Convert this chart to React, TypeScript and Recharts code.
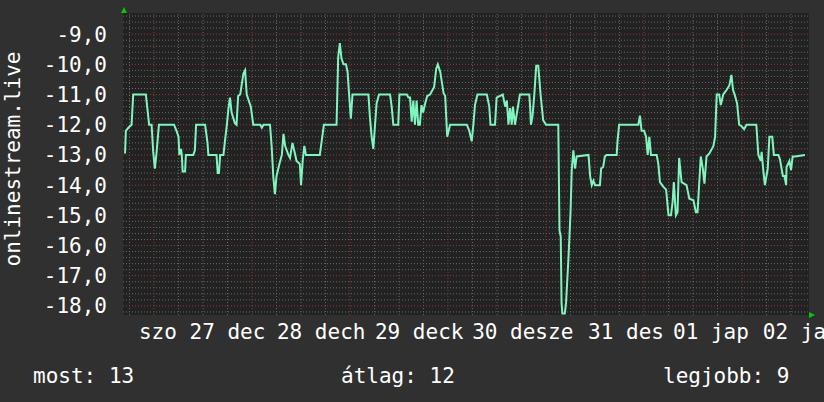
import React from 'react';
import { LineChart, Line, XAxis, YAxis, ReferenceLine, CartesianGrid } from 'recharts';

// hours since start of graph window, and the value at that moment
const HOURS = [
  0.5, 0.7, 1.3, 2.1, 2.5, 5.6, 6.0, 6.4, 7.0, 7.4, 7.8, 8.2, 8.8, 12.5, 13.1, 13.6, 13.8, 14.2, 14.4, 14.6,
  15.2, 15.4, 17.2, 17.6, 17.9, 20.1, 20.7, 20.9, 22.9, 23.2, 23.5, 23.8, 24.6, 25.0, 25.4, 25.8, 26.2, 26.6,
  27.4, 27.8, 28.2, 28.7, 29.5, 29.9, 30.3, 31.3, 31.9, 33.6, 34.0, 34.4, 36.0, 36.4, 36.8, 37.2, 37.6, 38.3,
  38.9, 39.3, 39.7, 40.5, 40.9, 41.5, 42.1, 42.5, 43.3, 43.6, 44.0, 44.4, 44.8, 48.2, 48.8, 49.2, 52.3, 52.7,
  53.1, 53.5, 54.0, 54.6, 55.0, 55.4, 55.8, 56.2, 60.1, 60.5, 60.9, 61.3, 61.7, 62.1, 62.7, 65.4, 65.8, 66.2,
  67.4, 67.7, 69.5, 69.9, 70.3, 70.7, 71.1, 71.5, 71.9, 72.3, 72.7, 73.1, 73.5, 73.9, 74.5, 75.2, 76.2, 76.7,
  77.1, 77.7, 78.5, 78.9, 79.4, 80.1, 84.2, 84.8, 85.4, 85.8, 86.2, 86.8, 89.1, 89.7, 90.0, 91.1, 91.5, 93.0,
  93.6, 94.0, 94.4, 94.8, 95.2, 95.5, 96.0, 97.2, 99.5, 99.7, 99.9, 100.3, 100.7, 101.2, 101.7, 102.3, 102.9,
  103.6, 106.6, 106.9, 107.2, 107.4, 107.6, 108.2, 108.5, 109.1, 109.6, 109.9, 110.3, 110.7, 111.1, 114.0,
  114.4, 114.8, 115.2, 115.6, 116.8, 117.1, 117.6, 118.0, 118.4, 120.9, 121.1, 121.5, 126.2, 126.6, 127.0,
  127.6, 128.1, 128.5, 128.9, 129.3, 130.7, 131.1, 131.5, 132.3, 133.0, 133.6, 134.2, 134.6, 134.9, 135.4,
  135.8, 136.2, 136.8, 138.0, 138.7, 139.7, 140.3, 140.7, 141.5, 142.0, 142.4, 142.9, 143.6, 144.6, 145.0,
  145.4, 146.0, 146.4, 147.0, 147.8, 148.5, 149.0, 149.4, 149.8, 150.4, 150.9, 151.5, 152.1, 152.7, 155.1,
  155.6, 156.2, 156.4, 156.8, 157.2, 157.9, 158.3, 159.0, 159.4, 160.5, 160.9, 161.6, 162.0, 162.4, 162.5,
  163.2, 163.6, 164.0, 164.6, 167.0,
];

const VALUES = [
  -12.95, -12.2, -12.1, -12.0, -11.0, -11.0, -11.5, -12.0, -12.0, -12.9, -13.45, -12.95, -12.0, -12.0, -12.2,
  -12.4, -13.0, -12.8, -13.0, -13.55, -13.55, -13.0, -13.0, -12.85, -12.0, -12.0, -12.6, -13.0, -13.0, -13.6,
  -13.6, -13.0, -13.0, -12.5, -12.05, -11.5, -11.1, -11.6, -11.95, -12.0, -11.05, -11.0, -10.3, -10.2, -11.0,
  -11.4, -12.0, -12.0, -12.1, -12.0, -12.0, -12.7, -13.7, -14.3, -13.7, -13.3, -13.0, -12.3, -12.7, -13.0,
  -13.1, -12.6, -12.95, -13.2, -13.3, -14.0, -13.2, -12.7, -13.0, -13.0, -12.4, -12.0, -12.0, -9.75, -9.3,
  -9.8, -10.0, -10.0, -10.25, -11.05, -11.8, -11.0, -11.0, -11.8, -12.4, -12.8, -12.05, -11.3, -11.0, -11.0,
  -11.4, -12.0, -12.0, -11.0, -11.0, -11.1, -11.1, -11.9, -11.2, -12.0, -11.2, -12.0, -12.0, -11.35, -11.6,
  -11.35, -11.05, -11.0, -10.75, -10.15, -10.0, -10.25, -10.95, -11.05, -12.4, -12.0, -12.0, -12.2, -12.55,
  -12.0, -11.35, -11.0, -11.0, -11.4, -12.0, -12.0, -11.1, -11.0, -11.4, -11.2, -12.0, -11.45, -12.0, -11.4,
  -12.0, -11.0, -11.0, -11.4, -12.0, -11.7, -11.05, -10.05, -10.05, -11.05, -11.85, -12.0, -12.0, -15.5,
  -15.7, -17.9, -18.25, -18.25, -17.9, -16.4, -14.9, -13.5, -12.85, -13.45, -13.05, -13.0, -13.7, -14.0,
  -13.85, -14.0, -14.0, -13.45, -13.4, -13.05, -13.0, -13.0, -12.55, -12.0, -12.0, -11.7, -12.2, -12.2,
  -12.4, -13.0, -12.4, -13.0, -13.0, -13.3, -13.9, -14.05, -14.15, -15.0, -15.0, -14.55, -13.9, -15.0,
  -14.9, -13.1, -13.9, -14.0, -14.45, -14.5, -14.9, -14.9, -13.05, -13.45, -13.95, -13.05, -12.95, -12.7,
  -12.4, -11.0, -11.0, -11.35, -11.0, -10.85, -10.7, -10.35, -10.85, -11.0, -11.3, -12.0, -12.05, -12.15,
  -12.0, -12.0, -13.0, -13.2, -12.9, -13.5, -14.0, -13.45, -12.4, -12.4, -13.0, -13.0, -13.15, -13.7, -13.7,
  -14.0, -13.4, -13.2, -13.5, -13.05, -13.05, -13.0,
];

const Y_TICKS = [-18, -17, -16, -15, -14, -13, -12, -11, -10, -9];

// day labels as they appear (overlapping rrd-style text), and the hour where each starts
const X_LABELS = ['szo 27 dec', '28 dech', '29 deck', '30 desze', '31 des', '01 jap', '02 ja'];
const X_LABEL_HOURS = [3.9, 37.7, 61.7, 85.5, 113.9, 134.7, 156.7];

const SUMMARY_NAMES = ['most', 'átlag', 'legjobb'];
const SUMMARY_VALUES = [13, 12, 9];

const data = HOURS.map((t, i) => ({ t, v: VALUES[i] }));

const FONT = '"DejaVu Sans Mono", monospace';
const W = 824;
const H = 402;
const GRID = '#686868';
const MGRID = '#8c3a3a';

// grid: minor every 0.2, major every 1; vertical every 6h, major at midnight
const minorY: number[] = [];
for (let i = -91; i <= -42; i++) if (i % 5 !== 0) minorY.push(i / 5);
const gridX: number[] = [];
for (let t = 1.6; t < 168; t += 6) gridX.push(Math.round(t * 10) / 10);

const XTick = (props: any) => {
  const { x, y, payload } = props;
  const idx = X_LABEL_HOURS.indexOf(payload.value);
  return (
    <text x={x} y={y + 24} textAnchor="start" fill="#ffffff" fontFamily={FONT} fontSize={21}>
      {X_LABELS[idx]}
    </text>
  );
};

export default function App() {
  return (
    <div style={{ position: 'absolute', left: 0, top: 0, width: W, height: H, background: '#303030', overflow: 'hidden' }}>
      <LineChart width={W} height={H} data={data} margin={{ top: 13, right: 15, bottom: 0, left: 0 }}>
        <CartesianGrid fill="#222222" stroke="none" horizontal={false} vertical={false} />
        {minorY.map((y) => (
          <ReferenceLine key={'my' + y} y={y} stroke={GRID} strokeDasharray="1 2" />
        ))}
        {gridX.map((t, k) => (
          <ReferenceLine key={'gx' + t} x={t} stroke={k % 4 === 1 ? MGRID : GRID} strokeDasharray="1 2" />
        ))}
        {Y_TICKS.map((y) => (
          <ReferenceLine key={'My' + y} y={y} stroke={MGRID} strokeDasharray="1 2" />
        ))}
        <XAxis
          dataKey="t"
          type="number"
          domain={[0, 168]}
          ticks={X_LABEL_HOURS}
          tick={<XTick />}
          height={87}
          axisLine={false}
          tickLine={false}
          tickSize={0}
          tickMargin={0}
          allowDataOverflow
        />
        <YAxis
          type="number"
          domain={[-18.3, -8.3]}
          ticks={Y_TICKS}
          width={123}
          axisLine={false}
          tickLine={false}
          tickSize={8}
          tickMargin={8}
          tickFormatter={(v: number) => v.toFixed(1).replace('.', ',')}
          tick={{ fill: '#ffffff', fontFamily: FONT, fontSize: 21 }}
          allowDataOverflow
        />
        <Line
          type="linear"
          dataKey="v"
          stroke="#80f5c0"
          strokeWidth={2}
          dot={false}
          isAnimationActive={false}
        />
      </LineChart>
      <svg width={W} height={H} style={{ position: 'absolute', left: 0, top: 0, pointerEvents: 'none' }}>
        <polygon points="121,13 127,13 124,7" fill="#00cc00" />
        <polygon points="809,312 809,318 815,315" fill="#00cc00" />
        <text
          x={13}
          y={159}
          transform="rotate(-90 13 159)"
          textAnchor="middle"
          dominantBaseline="central"
          fill="#ffffff"
          fontFamily={FONT}
          fontSize={21}
        >
          onlinestream.live
        </text>
        {SUMMARY_NAMES.map((n, i) => (
          <text key={n} x={[33, 341, 663][i]} y={383} fill="#ffffff" fontFamily={FONT} fontSize={21}>
            {n}: {SUMMARY_VALUES[i]}
          </text>
        ))}
      </svg>
    </div>
  );
}
